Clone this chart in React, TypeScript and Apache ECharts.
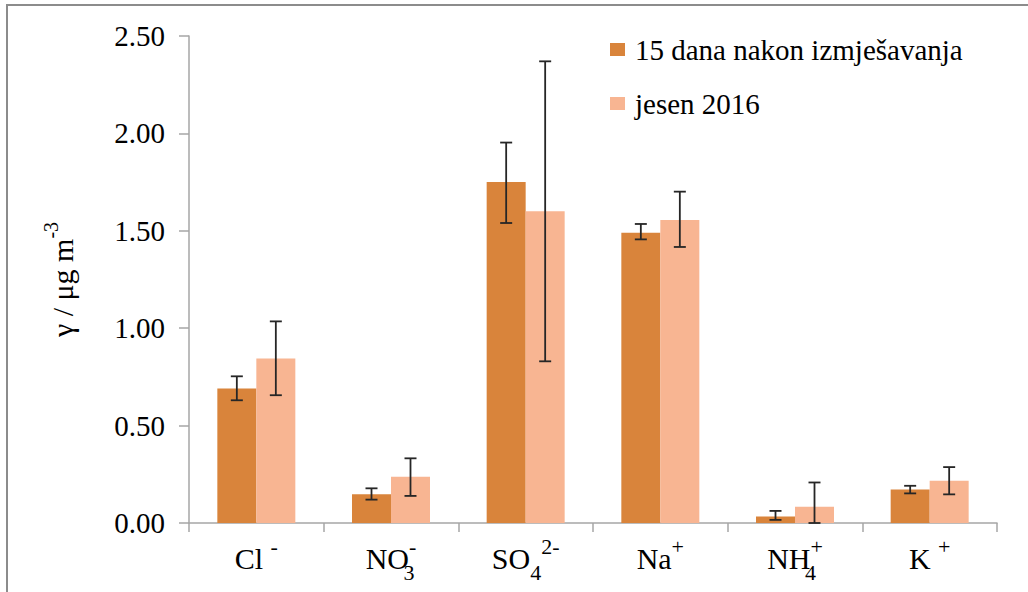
import React, { useEffect, useRef } from "react";
import * as echarts from "echarts";

const categories = ["Cl-", "NO3-", "SO4 2-", "Na+", "NH4+", "K+"];
const categoryLabels = [
  "{m|Cl }{sup|-}",
  "{m|NO}{subz|3}{sup|-}",
  "{m|SO}{sub|4}{sup|2-}",
  "{m|Na}{sup|+}",
  "{m|NH}{subz|4}{sup|+}",
  "{m|K }{sup|+}",
];
const seriesNames = ["15 dana nakon izmješavanja", "jesen 2016"];
const valuesA = [0.69, 0.148, 1.75, 1.49, 0.034, 0.172];
const lowA = [0.63, 0.12, 1.54, 1.456, 0.016, 0.152];
const highA = [0.753, 0.178, 1.953, 1.535, 0.062, 0.191];
const valuesB = [0.845, 0.238, 1.6, 1.555, 0.083, 0.217];
const lowB = [0.656, 0.139, 0.83, 1.417, 0.0, 0.147];
const highB = [1.035, 0.332, 2.37, 1.701, 0.208, 0.287];
const yTicks = { min: 0, max: 2.5, interval: 0.5 };

const FONT = "Liberation Serif";
const COLOR_A = "#D9843B";
const COLOR_B = "#F8B592";
const AXIS_COLOR = "#a6a6a6";
const ERR_COLOR = "#262626";
const BAR_W = 39;
const FS = 29;
const FS_X = 30;
const FS_SMALL = 22;

function errData(lo: number[], hi: number[]) {
  return categories.map((_, i) => [i, lo[i], hi[i]]);
}

function makeErr(offset: number) {
  return (params: any, api: any) => {
    const i = api.value(0);
    const p1 = api.coord([i, api.value(1)]);
    const p2 = api.coord([i, api.value(2)]);
    const x = p1[0] + offset;
    const cap = 6;
    const style = { stroke: ERR_COLOR, lineWidth: 1.8 };
    return {
      type: "group",
      children: [
        { type: "line", shape: { x1: x, y1: p2[1], x2: x, y2: p1[1] }, style },
        { type: "line", shape: { x1: x - cap, y1: p2[1], x2: x + cap, y2: p2[1] }, style },
        { type: "line", shape: { x1: x - cap, y1: p1[1], x2: x + cap, y2: p1[1] }, style },
      ],
    };
  };
}

export default function App() {
  const ref = useRef<HTMLDivElement>(null);
  useEffect(() => {
    if (!ref.current) return;
    const chart = echarts.init(ref.current, undefined, { renderer: "svg" });
    const richX = {
      m: { fontSize: FS_X, fontFamily: FONT, color: "#000", lineHeight: 50, verticalAlign: "middle" },
      sup: { fontSize: FS_SMALL, fontFamily: FONT, color: "#000", lineHeight: 22, padding: [2, 0, 0, 0], verticalAlign: "top" },
      sub: { fontSize: FS_SMALL, fontFamily: FONT, color: "#000", lineHeight: 22, verticalAlign: "bottom" },
      subz: { fontSize: FS_SMALL, fontFamily: FONT, color: "#000", lineHeight: 22, verticalAlign: "bottom", width: 0 },
    };
    chart.setOption({
      animation: false,
      backgroundColor: "#fff",
      textStyle: { fontFamily: FONT },
      grid: { left: 189, right: 31, top: 36, bottom: 69, containLabel: false },
      legend: {
        orient: "vertical",
        left: 605,
        top: 30,
        itemWidth: 15,
        itemHeight: 13,
        itemGap: 25,
        icon: "rect",
        data: seriesNames,
        textStyle: { fontSize: FS, fontFamily: FONT, color: "#000", padding: [0, 0, 0, 5] },
      },
      xAxis: {
        type: "category",
        data: categories,
        boundaryGap: true,
        axisLine: { lineStyle: { color: AXIS_COLOR, width: 1.5 } },
        axisTick: { show: true, length: 9, lineStyle: { color: AXIS_COLOR, width: 1.5 } },
        axisLabel: {
          interval: 0,
          margin: 10,
          formatter: (_v: string, idx: number) => categoryLabels[idx],
          rich: richX,
        },
      },
      yAxis: {
        type: "value",
        min: yTicks.min,
        max: yTicks.max,
        interval: yTicks.interval,
        name: "{m|γ / μg m}{sup|-3}",
        nameLocation: "middle",
        nameRotate: 90,
        nameGap: 112,
        nameTextStyle: {
          rich: {
            m: { fontSize: 30, fontFamily: FONT, color: "#000", lineHeight: 36, verticalAlign: "bottom" },
            sup: { fontSize: 20, fontFamily: FONT, color: "#000", lineHeight: 20, verticalAlign: "top" },
          },
        },
        axisLine: { show: true, lineStyle: { color: AXIS_COLOR, width: 1.5 } },
        axisTick: { show: true, length: 10, lineStyle: { color: AXIS_COLOR, width: 1.5 } },
        splitLine: { show: false },
        axisLabel: {
          margin: 24,
          fontSize: FS,
          fontFamily: FONT,
          color: "#000",
          formatter: (v: number) => v.toFixed(2),
        },
      },
      series: [
        {
          name: seriesNames[0],
          type: "bar",
          data: valuesA,
          barWidth: BAR_W,
          barGap: "0%",
          itemStyle: { color: COLOR_A },
        },
        {
          name: seriesNames[1],
          type: "bar",
          data: valuesB,
          barWidth: BAR_W,
          barGap: "0%",
          itemStyle: { color: COLOR_B },
        },
        {
          type: "custom",
          name: "errA",
          data: errData(lowA, highA),
          encode: { x: 0, y: [1, 2] },
          renderItem: makeErr(-BAR_W / 2),
          z: 10,
          silent: true,
        },
        {
          type: "custom",
          name: "errB",
          data: errData(lowB, highB),
          encode: { x: 0, y: [1, 2] },
          renderItem: makeErr(BAR_W / 2),
          z: 10,
          silent: true,
        },
      ],
      graphic: [
        {
          type: "rect",
          silent: true,
          shape: { x: 7, y: 5, width: 1100, height: 700 },
          style: { fill: "none", stroke: "#8c8c8c", lineWidth: 2 },
        },
      ],
    });
    return () => chart.dispose();
  }, []);
  return (
    <div
      ref={ref}
      style={{ position: "fixed", left: 0, top: 0, width: 1028, height: 592 }}
    />
  );
}
